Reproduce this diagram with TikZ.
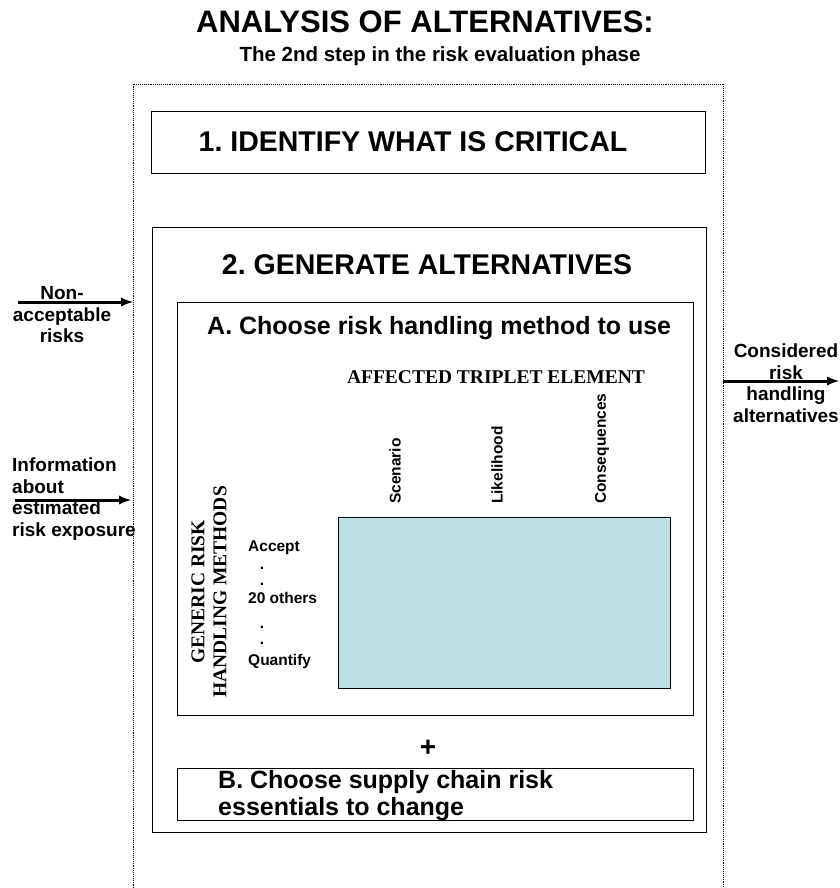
\documentclass[tikz,border=0pt]{standalone}
\usepackage{fontspec}
\setmainfont{Liberation Sans}
\newfontfamily\timesfont{Liberation Serif}
\usetikzlibrary{arrows,positioning}
\definecolor{tealfill}{RGB}{186,224,226}
\frenchspacing

\begin{document}
\begin{tikzpicture}[x=1pt,y=-1pt,>=latex,
  box/.style={draw,line width=0.8pt,inner sep=0pt},
  flow/.style={->,line width=3pt},
  big/.style={font=\bfseries\fontsize{28.5}{32}\selectfont},
  mid/.style={font=\bfseries\fontsize{25}{27}\selectfont},
  lbl/.style={font=\bfseries\fontsize{19}{21.5}\selectfont,inner sep=0pt},
  small/.style={font=\bfseries\fontsize{15.5}{18}\selectfont,inner sep=0pt},
  serif/.style={font=\timesfont\bfseries\fontsize{19.5}{22}\selectfont,inner sep=0pt}]
  \useasboundingbox (0,0) rectangle (839,888);
  % title
  \node[font=\bfseries\fontsize{31}{34}\selectfont] (title) at (425,22) {ANALYSIS OF ALTERNATIVES:};
  \node[font=\bfseries\fontsize{20.5}{23}\selectfont] (subtitle) at (440,56) {The 2nd step in the risk evaluation phase};
  % outer dotted frame
  \draw[densely dotted,line width=0.9pt] (133,892) -- (133,84) -- (723,84) -- (723,892);
  % step 1
  \node[box,minimum width=554pt,minimum height=62pt] (critical) at (428,142) {};
  \node[big] (critlabel) at (413,142) {1. IDENTIFY WHAT IS CRITICAL};
  % step 2
  \node[box,minimum width=554pt,minimum height=605pt] (generate) at (429,529.5) {};
  \node[big] (genlabel) at (427,265) {2. GENERATE ALTERNATIVES};
  % part A
  \node[box,minimum width=516pt,minimum height=413pt] (partA) at (435,508.5) {};
  \node[mid,anchor=west,inner sep=0pt] (alabel) at (207,328) {A. Choose risk handling method to use};
  \node[serif] (triplet) at (496,377) {AFFECTED TRIPLET ELEMENT};
  \node[small,rotate=90,anchor=west] (scen) at (395,504) {Scenario};
  \node[small,rotate=90,anchor=west] (likel) at (497,504) {Likelihood};
  \node[small,rotate=90,anchor=west] (conseq) at (602,504) {Consequences};
  \node[serif,rotate=90,align=center] (generic) at (209,592) {GENERIC RISK\\HANDLING METHODS};
  \node[small,anchor=west] (accept) at (248,548) {Accept};
  \node[small] (d1) at (262,568) {.};
  \node[small] (d2) at (262,584) {.};
  \node[small,anchor=west] (others) at (248,598) {20 others};
  \node[small] (d3) at (262,627) {.};
  \node[small] (d4) at (262,643) {.};
  \node[small,anchor=west] (quantify) at (248,661) {Quantify};
  \node[box,fill=tealfill,minimum width=332pt,minimum height=171pt] (matrix) at (504,602.5) {};
  % part B
  \node[font=\bfseries\fontsize{28}{30}\selectfont] (plus) at (428,748) {+};
  \node[box,minimum width=516pt,minimum height=52pt] (partB) at (435,794) {};
  \node[mid,anchor=west,align=left,inner sep=0pt] (blabel) at (218,796) {B. Choose supply chain risk\\essentials to change};
  % inputs and output
  \node[lbl,align=center] (nonacc) at (62,315) {Non-\\acceptable\\risks};
  \node[lbl,align=left,anchor=west] (info) at (12,499) {Information\\about\\estimated\\risk exposure};
  \node[lbl,align=center] (considered) at (786,383) {Considered\\risk\\handling\\alternatives};
  \coordinate (in1) at (18,302);
  \coordinate (in1e) at (133,302);
  \coordinate (in2) at (15,500);
  \coordinate (in2e) at (131,500);
  \coordinate (out) at (723,381);
  \coordinate (oute) at (839,381);
  \draw[flow] (in1) -- (in1e);
  \draw[flow] (in2) -- (in2e);
  \draw[flow] (out) -- (oute);
\end{tikzpicture}
\end{document}
